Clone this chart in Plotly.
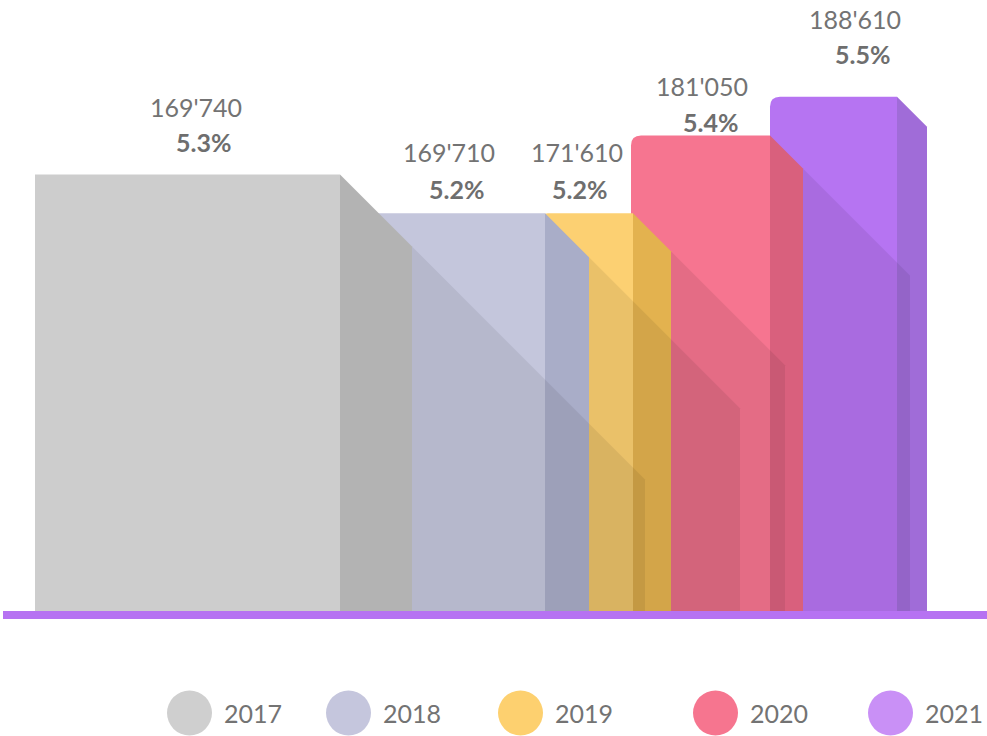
import plotly.graph_objects as go

# ---- data ----
years = ["2017", "2018", "2019", "2020", "2021"]
values = [169740, 169710, 171610, 181050, 188610]
shares = [5.3, 5.2, 5.2, 5.4, 5.5]

# ---- styles ----
front_colors = ["#cdcdcd", "#c4c6dc", "#fcd072", "#f67590", "#b674f2"]
side_colors = ["#b3b3b3", "#a9adc8", "#e3b24f", "#d9607d", "#a06cd8"]
legend_colors = ["#cfcfcf", "#c5c6dd", "#fdd06f", "#f6758f", "#c990f6"]
text_color = "#737373"

# ---- layout geometry (x in layout units, y in % units) ----
W, H = 987, 736
PX_PER_UNIT = 389.0          # vertical pixels per 1 percentage point
BASE = 4.17                  # axis value sitting on the baseline
BASE_PX = 614                # pixel row of the baseline
y_hi = BASE + BASE_PX / PX_PER_UNIT
y_lo = y_hi - H / PX_PER_UNIT

front_left = [35, 340, 538, 631, 770]
front_right = [340, 545, 633, 770, 897]
side_w = [72, 44, 38, 33, 30]
shadow_end = [645, 740, 785, 910, None]
corner_r = [0, 10, 10, 10, 10]
bottom_extra = [0, 0, 0, 2, 0]
value_x = [196, 449, 577, 702, 855]
share_x = [203, 456, 579, 710, 862]
value_gap = [67, 61, 61, 50, 78]     # px above bar top
share_gap = [32, 24, 24, 14, 43]
legend_x = [189.5, 348.5, 520.5, 715.5, 890.5]
legend_px = 713


def u(px):
    return px / PX_PER_UNIT


fig = go.Figure()
shapes = []

# bars from back (last) to front (first)
for i in reversed(range(len(years))):
    top = shares[i]
    bot = BASE - u(bottom_extra[i])
    xl, xr, sw = front_left[i], front_right[i], side_w[i]
    r = corner_r[i]
    if r:
        fp = (f"M {xl},{bot} L {xl},{top - u(r)} Q {xl},{top} {xl + r},{top} "
              f"L {xr},{top} L {xr},{bot} Z")
    else:
        fp = f"M {xl},{bot} L {xl},{top} L {xr},{top} L {xr},{bot} Z"
    shapes.append(dict(type="path", xref="x", yref="y", path=fp,
                       fillcolor=front_colors[i], line=dict(width=0), layer="above"))
    sp = (f"M {xr},{top} L {xr + sw},{top - u(sw)} L {xr + sw},{bot} "
          f"L {xr},{bot} Z")
    shapes.append(dict(type="path", xref="x", yref="y", path=sp,
                       fillcolor=side_colors[i], line=dict(width=0), layer="above"))

# cast shadows (45 degrees) over the bars behind
for i in range(len(years)):
    if shadow_end[i] is None:
        continue
    top = shares[i]
    xr, sw, xe = front_right[i], side_w[i], shadow_end[i]
    x0 = xr + sw
    p = (f"M {x0},{top - u(sw)} L {xe},{top - u(xe - xr)} L {xe},{BASE} "
         f"L {x0},{BASE} Z")
    shapes.append(dict(type="path", xref="x", yref="y", path=p,
                       fillcolor="rgba(0,0,0,0.07)", line=dict(width=0), layer="above"))

# baseline
shapes.append(dict(type="line", xref="x", yref="y", x0=3, x1=987,
                   y0=BASE - u(1), y1=BASE - u(1),
                   line=dict(color="#b672f2", width=8), layer="above"))

annotations = []
for i in range(len(years)):
    annotations.append(dict(
        x=value_x[i], y=shares[i] + u(value_gap[i]), xref="x", yref="y",
        text=f"{values[i]:,}".replace(",", "'"), showarrow=False,
        font=dict(family="Lato", size=25, color=text_color),
        xanchor="center", yanchor="middle"))
    annotations.append(dict(
        x=share_x[i], y=shares[i] + u(share_gap[i]), xref="x", yref="y",
        text=f"<b>{shares[i]:.1f}%</b>", showarrow=False,
        font=dict(family="Lato", size=25, color="#6e6e6e"),
        xanchor="center", yanchor="middle"))
    annotations.append(dict(
        x=legend_x[i] + 32, y=BASE - u(legend_px - BASE_PX), xref="x", yref="y",
        text=years[i], showarrow=False,
        font=dict(family="Lato", size=25, color=text_color),
        xanchor="left", yanchor="middle"))

fig.add_trace(go.Scatter(
    x=legend_x, y=[BASE - u(legend_px - BASE_PX)] * len(years),
    mode="markers", marker=dict(size=45, color=legend_colors, line=dict(width=0)),
    hoverinfo="skip", showlegend=False, cliponaxis=False))

fig.update_layout(
    width=W, height=H, margin=dict(l=0, r=0, t=0, b=0),
    paper_bgcolor="white", plot_bgcolor="white",
    shapes=shapes, annotations=annotations, showlegend=False,
    xaxis=dict(range=[0, W], visible=False, fixedrange=True),
    yaxis=dict(range=[y_lo, y_hi], visible=False, fixedrange=True),
)

fig.write_html("out.html", config={"displayModeBar": False},
               post_script="document.body.style.margin='0px';"
                           "document.body.style.overflow='hidden';")
